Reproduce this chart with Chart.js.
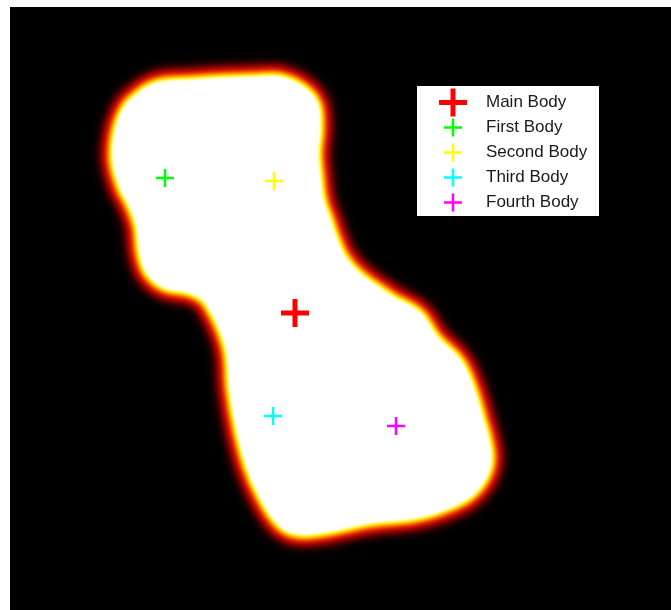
<!DOCTYPE html>
<html>
<head>
<meta charset="utf-8">
<script src="https://cdn.jsdelivr.net/npm/chart.js@4.4.1/dist/chart.umd.min.js"></script>
<style>
  html, body { margin: 0; padding: 0; background: #fff; overflow: hidden; }
  canvas { display: block; }
</style>
</head>
<body>
<canvas id="bodyChart" width="671" height="610"></canvas>
<script>
// outline of the segmented region (image pixel coords, y down)
const outlineX = [180, 213, 247, 270, 293, 307, 310, 308, 310, 313, 320, 327, 335, 348, 365, 383, 410, 427, 450, 463,
  473, 480, 480, 470, 450, 410, 360, 310, 283, 267, 250, 237, 227, 220, 217, 210, 200, 193, 180, 153,
  137, 130, 127, 120, 110, 103, 105, 113, 125, 147, 180];
const outlineY = [73, 71, 70, 70, 80, 96, 120, 146, 170, 193, 213, 233, 250, 265, 278, 290, 306, 330, 353, 380,
  413, 440, 460, 480, 496, 510, 516, 526, 526, 516, 490, 460, 423, 383, 346, 323, 303, 293, 286, 280,
  266, 246, 220, 200, 180, 153, 126, 103, 89, 76, 73];

// centroids
const bodyNames = ['Main Body', 'First Body', 'Second Body', 'Third Body', 'Fourth Body'];
const bodyX = [285, 155, 264, 263, 386];
const bodyY = [306, 171, 174, 409, 419];
const bodyColors = ['#ff0000', '#00ff00', '#ffff00', '#00ffff', '#ff00ff'];

const outline = outlineX.map((x, i) => ({ x: x, y: outlineY[i] }));

const datasets = [];
bodyNames.forEach(function (name, i) {
  datasets.push({
    label: name,
    data: [{ x: bodyX[i], y: bodyY[i] }],
    pointStyle: 'cross',
    pointRadius: i === 0 ? 14 : 9,
    borderWidth: i === 0 ? 5 : 2.5,
    borderColor: bodyColors[i],
    backgroundColor: bodyColors[i],
    order: i
  });
});

// glow layers, bottom to top
const glow = [
  { color: '#a00000', width: 26, blur: 4, order: 13 },
  { color: '#ff1a00', width: 17, blur: 3, order: 12 },
  { color: '#ffff00', width: 9, blur: 2, order: 11 }
];
glow.forEach(function (g) {
  datasets.push({
    data: outline, showLine: true, tension: 0.4, fill: false,
    borderColor: g.color, borderWidth: g.width, pointRadius: 0,
    glowBlur: g.blur, order: g.order
  });
});
datasets.push({
  data: outline, showLine: true, tension: 0.4, fill: 'shape',
  backgroundColor: '#ffffff', borderColor: '#ffffe0', borderWidth: 2,
  pointRadius: 0, glowBlur: 1, order: 10
});

const bgPlugin = {
  id: 'bg',
  beforeDraw(chart) {
    const a = chart.chartArea;
    chart.ctx.save();
    chart.ctx.fillStyle = '#000';
    chart.ctx.fillRect(a.left, a.top, a.right - a.left, a.bottom - a.top);
    chart.ctx.restore();
  },
  beforeDatasetDraw(chart, args) {
    chart.ctx.save();
    const b = chart.data.datasets[args.index].glowBlur;
    if (b) chart.ctx.filter = 'blur(' + b + 'px)';
  },
  afterDatasetDraw(chart) {
    chart.ctx.restore();
  }
};

// boxed legend in upper right, like the original figure
const legendPlugin = {
  id: 'boxLegend',
  afterDraw(chart) {
    const ctx = chart.ctx;
    const left = 416, top = 85, w = 184, h = 132;
    ctx.save();
    ctx.fillStyle = '#fff';
    ctx.fillRect(left, top, w, h);
    ctx.strokeStyle = '#000';
    ctx.lineWidth = 1;
    ctx.strokeRect(left + 0.5, top + 0.5, w - 1, h - 1);
    ctx.font = '17px "Liberation Sans", Arial, sans-serif';
    ctx.textBaseline = 'middle';
    bodyNames.forEach(function (name, i) {
      const ds = chart.data.datasets[i];
      const cy = top + 17.5 + i * 25;
      const cx = 453;
      const r = ds.pointRadius;
      ctx.strokeStyle = ds.borderColor;
      ctx.lineWidth = ds.borderWidth;
      ctx.beginPath();
      ctx.moveTo(cx - r, cy); ctx.lineTo(cx + r, cy);
      ctx.moveTo(cx, cy - r); ctx.lineTo(cx, cy + r);
      ctx.stroke();
      ctx.fillStyle = '#1a1a1a';
      ctx.fillText(name, 486, cy);
    });
    ctx.restore();
  }
};

const chart = new Chart(document.getElementById('bodyChart').getContext('2d'), {
  type: 'scatter',
  data: { datasets: datasets },
  options: {
    responsive: false,
    animation: false,
    layout: { autoPadding: false, padding: { left: 10, top: 7, right: 0, bottom: 0 } },
    plugins: { legend: { display: false }, tooltip: { enabled: false } },
    scales: {
      x: { type: 'linear', min: 0, max: 661, display: false },
      y: { type: 'linear', min: 0, max: 603, reverse: true, display: false }
    }
  },
  plugins: [bgPlugin, legendPlugin]
});
</script>
</body>
</html>
